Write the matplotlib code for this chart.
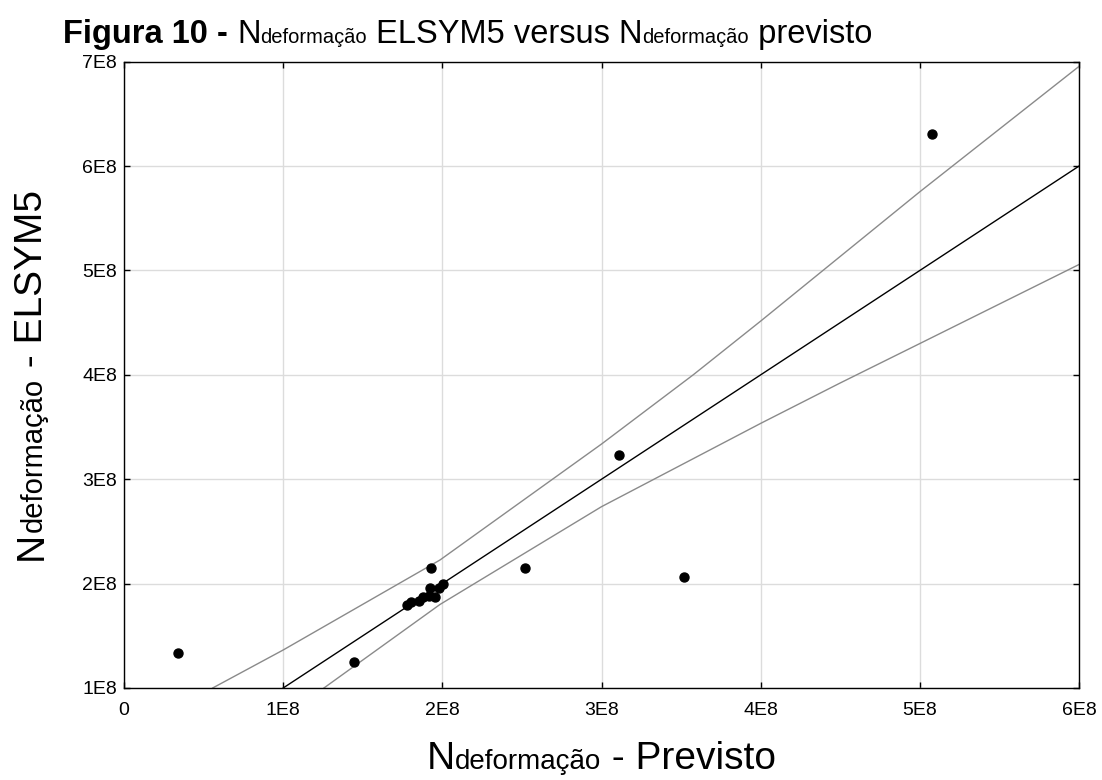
import numpy as np
import matplotlib
matplotlib.use("Agg")
import matplotlib.pyplot as plt
from matplotlib.ticker import FixedLocator, FixedFormatter

plt.rcParams['font.family'] = ['Liberation Sans', 'DejaVu Sans']

W, H = 1102, 780

# N deformacao: previsto (x) vs ELSYM5 (y)
n_previsto = [0.34e8, 1.443e8, 1.776e8, 1.801e8, 1.855e8, 1.876e8, 1.918e8, 1.922e8,
              1.953e8, 1.981e8, 2.006e8, 1.928e8, 2.519e8, 3.107e8, 3.518e8, 5.077e8]
n_elsym5 = [1.335e8, 1.249e8, 1.792e8, 1.827e8, 1.833e8, 1.875e8, 1.881e8, 1.955e8,
            1.875e8, 1.955e8, 1.993e8, 2.147e8, 2.147e8, 3.236e8, 2.065e8, 6.308e8]

# reta de ajuste e faixas de confianca
reta_x = [1e8, 6e8]
reta_y = [1e8, 6e8]
sup_x = [0.557e8, 1e8, 1.985e8, 3e8, 3.576e8, 4e8, 4.497e8, 5e8, 6e8]
sup_y = [1e8, 1.364e8, 2.226e8, 3.337e8, 4e8, 4.515e8, 5.131e8, 5.754e8, 6.955e8]
inf_x = [1.256e8, 1.985e8, 3e8, 4e8, 4.497e8, 5e8, 6e8]
inf_y = [1e8, 1.80e8, 2.737e8, 3.535e8, 3.92e8, 4.30e8, 5.057e8]

xticks = [0, 1e8, 2e8, 3e8, 4e8, 5e8, 6e8]
xticklabels = ["0", "1E8", "2E8", "3E8", "4E8", "5E8", "6E8"]
yticks = [1e8, 2e8, 3e8, 4e8, 5e8, 6e8, 7e8]
yticklabels = ["1E8", "2E8", "3E8", "4E8", "5E8", "6E8", "7E8"]


def chain(fig, px, py, parts, rotation=0, center=False):
    # text pieces of different sizes on one baseline; px, py in pixels from top-left
    r = fig.canvas.get_renderer()
    texts = []
    for s, size, weight in parts:
        t = fig.text(0, 0, s, fontsize=size, fontweight=weight, rotation=rotation,
                     rotation_mode='anchor', ha='left', va='baseline')
        bb = t.get_window_extent(r)
        texts.append((t, bb.height if rotation else bb.width))
    total = sum(n for _, n in texts)
    if rotation:
        pos = py + (total / 2 if center else 0)
        for t, n in texts:
            t.set_position((px / W, 1 - pos / H))
            pos -= n
    else:
        pos = px - (total / 2 if center else 0)
        for t, n in texts:
            t.set_position((pos / W, 1 - py / H))
            pos += n


fig = plt.figure(figsize=(W / 100, H / 100), dpi=100)
ax = fig.add_axes([124 / W, 1 - 688 / H, (1079 - 124) / W, (688 - 61.7) / H])

ax.grid(True, color='#dcdcdc', linewidth=1)
ax.set_axisbelow(True)

ax.plot(sup_x, sup_y, color='#8a8a8a', linewidth=1)
ax.plot(inf_x, inf_y, color='#8a8a8a', linewidth=1)
ax.plot(reta_x, reta_y, color='black', linewidth=1)
ax.scatter(n_previsto, n_elsym5, s=42, color='black', zorder=3)

ax.set_xlim(0, 6e8)
ax.set_ylim(1e8, 7e8)
ax.xaxis.set_major_locator(FixedLocator(xticks))
ax.xaxis.set_major_formatter(FixedFormatter(xticklabels))
ax.yaxis.set_major_locator(FixedLocator(yticks))
ax.yaxis.set_major_formatter(FixedFormatter(yticklabels))
ax.tick_params(direction='in', length=4, width=1, top=True, right=True, labelsize=14, colors='black')
ax.tick_params(axis='x', pad=10)
ax.tick_params(axis='y', pad=5)
for sp in ax.spines.values():
    sp.set_linewidth(1)
    sp.set_color('black')

chain(fig, 63, 43, [("Figura 10 - ", 23.5, 'bold'), ("N", 23.5, 'normal'),
                    ("deformação", 14.5, 'normal'), (" ELSYM5 versus N", 23.5, 'normal'),
                    ("deformação", 14.5, 'normal'), (" previsto", 23.5, 'normal')])
chain(fig, 601, 769, [("N", 28, 'normal'), ("deformação", 20, 'normal'),
                      (" - Previsto", 28, 'normal')], center=True)
chain(fig, 42, 375, [("N", 28, 'normal'), ("deformação", 21, 'normal'),
                     (" - ELSYM5", 28, 'normal')], rotation=90, center=True)

fig.savefig("out.png", dpi=100)
